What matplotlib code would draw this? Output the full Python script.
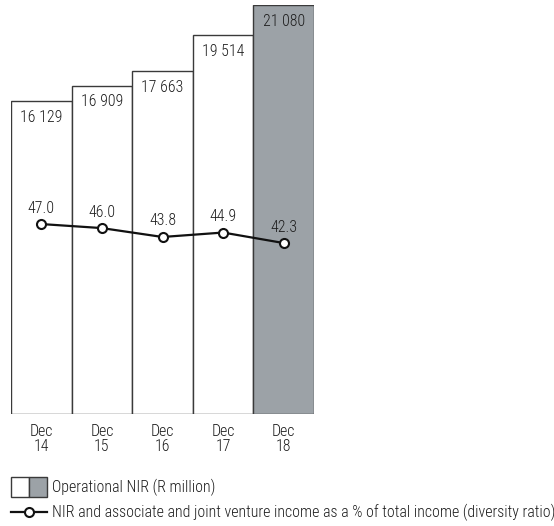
import matplotlib
matplotlib.use("Agg")
import matplotlib.pyplot as plt
from matplotlib.patches import Rectangle
from matplotlib.lines import Line2D

plt.rcParams['font.family'] = ['Roboto Condensed', 'DejaVu Sans']
plt.rcParams['font.weight'] = 300

# operational NIR (R million) and diversity ratio (%)
periods = ["Dec\n14", "Dec\n15", "Dec\n16", "Dec\n17", "Dec\n18"]
nir = [16129, 16909, 17663, 19514, 21080]
ratio = [47.0, 46.0, 43.8, 44.9, 42.3]
bar_colors = ["white", "white", "white", "white", "#9ca2a7"]

W, H = 554, 526
fig = plt.figure(figsize=(W / 100, H / 100), dpi=100)
TXT = "#1e1e1e"
FS = 11.4

def fx(x):
    return x / W

def fy(y):
    return 1 - y / H

# axes box in pixels: left 11, right 314, top 5, baseline 414
ax = fig.add_axes([fx(11), fy(414), fx(314 - 11), (414 - 5) / H])
xs = range(len(nir))
ax.bar(xs, nir, width=1.0, color=bar_colors, edgecolor="#3a3a3a", linewidth=1.0)
ax.set_xlim(-0.5, len(nir) - 0.5)
ax.set_ylim(0, max(nir))
for sp in ax.spines.values():
    sp.set_visible(False)
ax.set_yticks([])
ax.set_xticks(list(xs))
ax.set_xticklabels(periods, fontsize=FS, color=TXT, linespacing=1.05)
ax.tick_params(axis="x", length=0, pad=7)

def fmt(v):
    return f"{v:,}".replace(",", " ")

for i, v in enumerate(nir):
    ax.annotate(fmt(v), (i, v), xytext=(0, -16), textcoords="offset pixels",
                ha="center", va="center", fontsize=FS, color=TXT)

ax2 = ax.twinx()
ax2.set_ylim(0, 101.2)
ax2.set_yticks([])
for sp in ax2.spines.values():
    sp.set_visible(False)
ax2.plot(xs, ratio, color="#111111", linewidth=1.6, marker="o", markersize=6.5,
         markerfacecolor="white", markeredgecolor="#111111", markeredgewidth=1.5, zorder=3)
for i, v in enumerate(ratio):
    ax2.annotate(f"{v:.1f}", (i, v), xytext=(0, 16), textcoords="offset pixels",
                 ha="center", va="center", fontsize=FS, color=TXT)

# legend drawn in figure space
fig.add_artist(Rectangle((fx(11), fy(497)), fx(18), 20 / H, facecolor="white",
                         edgecolor="#3a3a3a", linewidth=1.0, transform=fig.transFigure))
fig.add_artist(Rectangle((fx(29), fy(497)), fx(18), 20 / H, facecolor="#9ca2a7",
                         edgecolor="#3a3a3a", linewidth=1.0, transform=fig.transFigure))
fig.text(fx(52), fy(487), "Operational NIR (R million)", ha="left", va="center",
         fontsize=FS, color=TXT)
fig.add_artist(Line2D([fx(11), fx(47)], [fy(512), fy(512)], color="#111111", linewidth=1.6,
                      transform=fig.transFigure))
fig.add_artist(Line2D([fx(29)], [fy(512)], marker="o", markersize=6.5, markerfacecolor="white",
                      markeredgecolor="#111111", markeredgewidth=1.5, transform=fig.transFigure))
fig.text(fx(52), fy(512), "NIR and associate and joint venture income as a % of total income (diversity ratio)",
         ha="left", va="center", fontsize=FS, color=TXT)

fig.savefig("out.png", dpi=100)
